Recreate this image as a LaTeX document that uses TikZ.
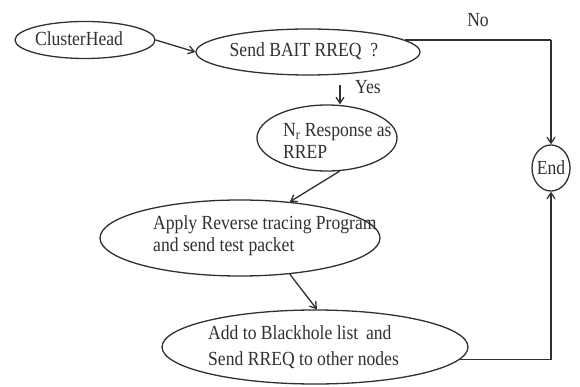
\documentclass[tikz,border=0pt]{standalone}
\usepackage{fontspec}
\setmainfont{Liberation Serif}[FakeStretch=0.88]
\usetikzlibrary{shapes.geometric,arrows.meta}
\definecolor{ink}{HTML}{303030}
\tikzset{
  oval/.style={draw=ink, line width=1.3pt, ellipse, inner sep=0pt},
  lbl/.style={text=ink, inner sep=0pt, font=\fontsize{20}{22}\selectfont},
  flow/.style={draw=ink, line width=1.3pt, -{Straight Barb[length=6pt,width=8pt]}},
  wire/.style={draw=ink, line width=1.3pt}
}
\begin{document}
\begin{tikzpicture}[x=1pt,y=-1pt]
\useasboundingbox (0,0) rectangle (580,387);
% ellipses
\node[oval, minimum width=140pt, minimum height=37pt] (CH) at (85,40) {};
\node[oval, minimum width=224pt, minimum height=46pt] (SB) at (308,52) {};
\node[oval, minimum width=140pt, minimum height=66pt] (NR) at (327,138) {};
\node[oval, minimum width=280pt, minimum height=76pt] (AP) at (240,238) {};
\node[oval, minimum width=306pt, minimum height=74pt] (AD) at (315,347) {};
\node[oval, minimum width=38pt, minimum height=46pt] (End) at (551,168) {};
% texts
\node[lbl] (CHt) at (79,39) {ClusterHead};
\node[lbl] (SBt) at (304,51) {Send BAIT RREQ ~?};
\node[lbl, anchor=west, align=left] (NRt) at (283,141) {N\textsubscript{r} Response as\\RREP};
\node[lbl, anchor=west, align=left] (APt) at (153,236) {Apply Reverse tracing Program\\and send test packet};
\node[lbl, anchor=west, align=left, font=\fontsize{20}{26}\selectfont] (ADt) at (208,347) {Add to Blackhole list \,and\\Send RREQ to other nodes};
\node[lbl] (Endt) at (551,168) {End};
\node[lbl] (No) at (478,20) {No};
\node[lbl] (Yes) at (368,87) {Yes};
% connectors
\draw[flow] (CH.east) -- (SB.west);
\draw[wire] (SB.7) -- (SB.7 -| End.north);
\draw[flow] (SB.7 -| End.north) -- (End.north);
\coordinate (yesTop) at (340,85);
\draw[flow] (yesTop) -- (yesTop |- NR.north) ;
\draw[flow] (NR.-69) -- (AP.36);
\draw[flow] (AP.-36) -- (AD.87);
\draw[flow] (AD.-5) -| (End.south);
\end{tikzpicture}
\end{document}
